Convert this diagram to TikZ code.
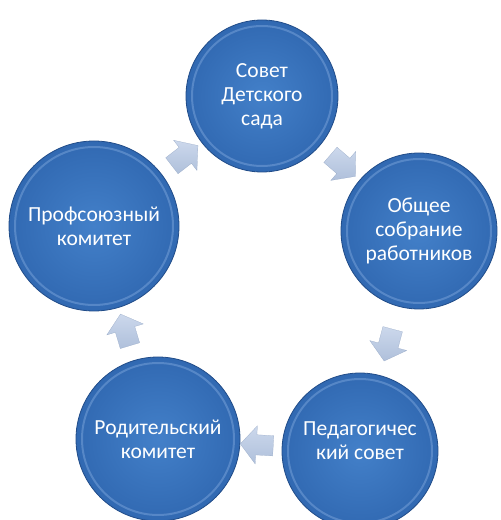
\documentclass[tikz,border=0pt]{standalone}
\usepackage{fontspec}
\setmainfont{Carlito}
\usepackage{tikz}
\usetikzlibrary{shapes.arrows,shapes.geometric,arrows,calc,positioning}
\definecolor{krugblue}{HTML}{4380C9}
\definecolor{krugdark}{HTML}{3169B2}
\definecolor{krugedge}{HTML}{214C88}
\definecolor{krugrim}{HTML}{8DB3E4}
\definecolor{strelkafill}{HTML}{CCD8EC}
\definecolor{strelkadark}{HTML}{AFC0DB}
\definecolor{strelkaedge}{HTML}{96A8C5}
\tikzset{
	nadpis/.style={text=white, align=center, font=\fontsize{21.5}{24}\selectfont},
	krug/.style={
		circle,
		inner sep=0pt, outer sep=0pt,
		minimum size=#1,
		shading=radial, inner color=krugblue, outer color=krugdark,
		draw=krugedge, thick,
		path picture={
			\draw[krugrim, line width=2pt, opacity=.4] let \p1=(path picture bounding box.east), \p2=(path picture bounding box.center) in (\p2) circle ({\x1-\x2-6pt});
		},
		nadpis},
	strelka/.style={
		single arrow,
		single arrow head extend=9pt,
		single arrow tip angle=100,
		minimum height=33pt,
		inner xsep=0pt, inner ysep=10pt,
		top color=strelkafill, bottom color=strelkadark,
		draw=strelkaedge, very thin,
		midway, sloped, allow upside down},
}

\begin{document}
\begin{tikzpicture}[x=1pt, y=1pt]
\useasboundingbox (0,0) rectangle (501,520);
\node[krug=152pt] (sovet) at (262,424) {Совет\\Детского\\сада};
\node[krug=156pt] (sobranie) at (419,289) {Общее\\собрание\\работников};
\node[krug=156pt, label={[nadpis, yshift=10pt]center:{Педагогичес\\кий совет}}] (pedsovet) at (360,69) {};
\node[krug=164pt] (roditeli) at (158,81) {Родительский\\комитет};
\node[krug=170pt] (profkom) at (94,294) {Профсоюзный\\комитет};
\path (profkom) -- (sovet) node[strelka] (strelka1) {};
\path (sovet) -- (sobranie) node[strelka] (strelka2) {};
\path (sobranie) -- (pedsovet) node[strelka] (strelka3) {};
\path (pedsovet) -- (roditeli) node[strelka] (strelka4) {};
\path (roditeli) -- (profkom) node[strelka] (strelka5) {};
\end{tikzpicture}
\end{document}
